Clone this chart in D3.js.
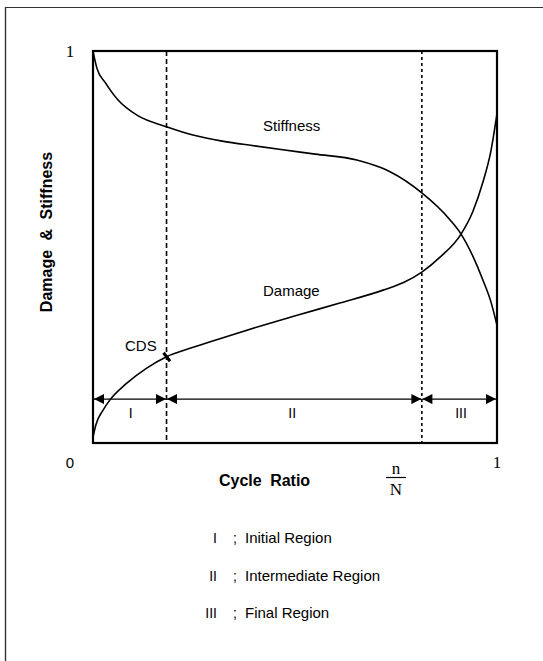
<!DOCTYPE html>
<html>
<head>
<meta charset="utf-8">
<script src="https://cdn.jsdelivr.net/npm/d3@7"></script>
<style>
  html, body { margin: 0; padding: 0; background: #fff; }
  svg { display: block; }
</style>
</head>
<body>
<svg id="chart" width="543" height="661"></svg>
<script>
// ---- data ----
const stiffnessX = [0, 0.01, 0.03, 0.062, 0.111, 0.182, 0.25, 0.32, 0.40, 0.47, 0.55, 0.653, 0.70, 0.735, 0.814, 0.884, 0.911, 0.941, 0.965, 0.985, 1.0];
const stiffnessY = [1, 0.955, 0.92, 0.875, 0.835, 0.807, 0.785, 0.770, 0.758, 0.748, 0.737, 0.722, 0.707, 0.692, 0.638, 0.569, 0.533, 0.475, 0.416, 0.36, 0.30];
const damageX = [0, 0.007, 0.025, 0.042, 0.083, 0.133, 0.182, 0.248, 0.314, 0.413, 0.512, 0.611, 0.718, 0.77, 0.814, 0.859, 0.911, 0.94, 0.965, 0.985, 1.0];
const damageY = [0.015, 0.046, 0.084, 0.110, 0.152, 0.191, 0.220, 0.244, 0.266, 0.298, 0.328, 0.357, 0.390, 0.410, 0.436, 0.474, 0.533, 0.590, 0.665, 0.745, 0.84];
const regionBounds = [0, 0.182, 0.814, 1];
const regionLabels = ["I", "II", "III"];
const regionNames = ["Initial Region", "Intermediate Region", "Final Region"];
const arrowLevel = 0.112;
const cdsX = 0.182;
const yTickLabels = [{ v: 1, t: "1" }];
const xTickLabels = [{ v: 1, t: "1" }];
const originLabel = "0";

// ---- layout ----
const svg = d3.select("#chart");
const x = d3.scaleLinear().domain([0, 1]).range([93, 497]);
const y = d3.scaleLinear().domain([0, 1]).range([443, 51]);
const sans = "'Liberation Sans', Arial, Helvetica, sans-serif";
const serif = "'Liberation Serif', 'Times New Roman', serif";

// outer frame (top and left edges)
svg.append("line").attr("x1", 5).attr("y1", 7.5).attr("x2", 543).attr("y2", 7.5)
  .attr("stroke", "#333").attr("stroke-width", 1.2);
svg.append("line").attr("x1", 5.5).attr("y1", 7).attr("x2", 5.5).attr("y2", 661)
  .attr("stroke", "#333").attr("stroke-width", 1.4);

// arrow marker
const defs = svg.append("defs");
defs.append("marker").attr("id", "ah").attr("viewBox", "0 0 10 10")
  .attr("refX", 10).attr("refY", 5).attr("markerWidth", 12).attr("markerHeight", 10)
  .attr("markerUnits", "userSpaceOnUse").attr("orient", "auto-start-reverse")
  .append("path").attr("d", "M0,0 L10,5 L0,10 Z").attr("fill", "#000");

// dashed region boundaries
const dashes = ["5,3", "3,3"];
regionBounds.slice(1, -1).forEach((b, i) => {
  svg.append("line").attr("x1", x(b)).attr("x2", x(b)).attr("y1", y(1)).attr("y2", y(0))
    .attr("stroke", "#000").attr("stroke-width", 1.6).attr("stroke-dasharray", dashes[i]);
});

// region arrows
for (let i = 0; i < regionLabels.length; i++) {
  const a = x(regionBounds[i]) + (i === 0 ? 1 : 0.5);
  const b = x(regionBounds[i + 1]) - (i === regionLabels.length - 1 ? 1 : 0.5);
  svg.append("line").attr("x1", a).attr("x2", b).attr("y1", y(arrowLevel)).attr("y2", y(arrowLevel))
    .attr("stroke", "#000").attr("stroke-width", 1.4)
    .attr("marker-start", "url(#ah)").attr("marker-end", "url(#ah)");
}
// region labels
const regionLabelX = [0.093, 0.493, 0.911];
regionLabels.forEach((t, i) => {
  svg.append("text")
    .attr("transform", `translate(${x(regionLabelX[i])},${y(arrowLevel) + 19}) rotate(0.01)`)
    .attr("text-anchor", "middle").attr("font-family", sans).attr("font-size", 14)
    .attr("fill", "#000").text(t);
});

// curves
const line = d3.line().x(d => x(d[0])).y(d => y(d[1])).curve(d3.curveMonotoneX);
svg.append("path").datum(stiffnessX.map((v, i) => [v, stiffnessY[i]]))
  .attr("d", line).attr("fill", "none").attr("stroke", "#000").attr("stroke-width", 1.6);
svg.append("path").datum(damageX.map((v, i) => [v, damageY[i]]))
  .attr("d", line).attr("fill", "none").attr("stroke", "#000").attr("stroke-width", 1.6);

// CDS mark on damage curve
const cdsY = damageY[damageX.indexOf(cdsX)];
svg.append("line").attr("x1", x(cdsX) - 3).attr("y1", y(cdsY) - 4)
  .attr("x2", x(cdsX) + 3.5).attr("y2", y(cdsY) + 4.5)
  .attr("stroke", "#000").attr("stroke-width", 3);
svg.append("text").attr("x", 125).attr("y", 351)
  .attr("font-family", sans).attr("font-size", 15).text("CDS");

// curve labels
svg.append("text").attr("x", 263).attr("y", 131).attr("font-family", sans)
  .attr("font-size", 15).text("Stiffness");
svg.append("text").attr("x", 263).attr("y", 296).attr("font-family", sans)
  .attr("font-size", 15).text("Damage");

// plot frame
svg.append("rect").attr("x", x(0)).attr("y", y(1)).attr("width", x(1) - x(0)).attr("height", y(0) - y(1))
  .attr("fill", "none").attr("stroke", "#000").attr("stroke-width", 2.2);

// tick labels
yTickLabels.forEach(d => {
  svg.append("text").attr("x", 70).attr("y", y(d.v) + 6).attr("text-anchor", "middle")
    .attr("font-family", serif).attr("font-size", 17).text(d.t);
});
xTickLabels.forEach(d => {
  svg.append("text").attr("x", x(d.v)).attr("y", y(0) + 25).attr("text-anchor", "middle")
    .attr("font-family", serif).attr("font-size", 17).text(d.t);
});
svg.append("text").attr("x", 70).attr("y", y(0) + 25).attr("text-anchor", "middle")
  .attr("font-family", sans).attr("font-size", 15).text(originLabel);

// axis titles
svg.append("text").attr("x", 219).attr("y", 486).attr("font-family", sans)
  .attr("font-size", 16).attr("font-weight", "bold").attr("word-spacing", "4").text("Cycle Ratio");
svg.append("text").attr("x", 396).attr("y", 474).attr("text-anchor", "middle")
  .attr("font-family", serif).attr("font-size", 17).text("n");
svg.append("line").attr("x1", 386).attr("x2", 406).attr("y1", 477.5).attr("y2", 477.5)
  .attr("stroke", "#000").attr("stroke-width", 1.2);
svg.append("text").attr("x", 396).attr("y", 495).attr("text-anchor", "middle")
  .attr("font-family", serif).attr("font-size", 17).text("N");
svg.append("text").attr("transform", "translate(52,232) rotate(-90)").attr("text-anchor", "middle")
  .attr("font-family", sans).attr("font-size", 16).attr("font-weight", "bold")
  .attr("word-spacing", "5").text("Damage & Stiffness");

// legend
const legendY = [543, 581, 618];
regionLabels.forEach((t, i) => {
  svg.append("text").attr("transform", `translate(217,${legendY[i]}) rotate(0.01)`)
    .attr("text-anchor", "end").attr("font-family", sans).attr("font-size", 14).text(t);
  svg.append("text").attr("x", 233).attr("y", legendY[i]).attr("font-family", sans)
    .attr("font-size", 14).text(";");
  svg.append("text").attr("x", 245).attr("y", legendY[i]).attr("font-family", sans)
    .attr("font-size", 15).text(regionNames[i]);
});
</script>
</body>
</html>
